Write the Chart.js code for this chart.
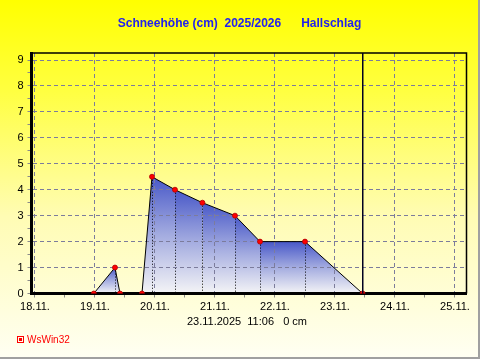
<!DOCTYPE html>
<html>
<head>
<meta charset="utf-8">
<script src="https://cdn.jsdelivr.net/npm/chart.js@4/dist/chart.umd.min.js"></script>
<style>
  html, body { margin: 0; padding: 0; background: #fff; }
  canvas { display: block; }
</style>
</head>
<body>
<canvas id="chart" width="481" height="361"></canvas>
<script>
// --- data (x = days since 18.11.2025 00:00) ---
const dayValues = [0.98, 1.333, 1.417, 1.783, 1.95, 2.333, 2.79, 3.333, 3.75, 4.5, 5.46];
const snowCm    = [0,    1,     0,     0,     4.5,  4,     3.5,  3,     2,    2,   0];
const xTickLabels = ['18.11.', '19.11.', '20.11.', '21.11.', '22.11.', '23.11.', '24.11.', '25.11.'];
const yTickLabels = ['0', '1', '2', '3', '4', '5', '6', '7', '8', '9'];
const titleText = 'Schneehöhe (cm)  2025/2026      Hallschlag';
const stampDay = 5.4625; // 23.11. 11:06
const stampText = '23.11.2025  11:06   0 cm';
const footerText = 'WsWin32';

const FONT = 'Arial, "Liberation Sans", sans-serif';

// background, gradient fill under the curve, dotted drop lines
const paintPlugin = {
    id: 'paint',
    beforeDraw(chart) {
        const { ctx, width, height } = chart;
        ctx.save();
        const bg = ctx.createLinearGradient(0, 0, 0, height);
        bg.addColorStop(0, '#ffff00');
        bg.addColorStop(0.25, '#ffff40');
        bg.addColorStop(0.6, '#fffcb4');
        bg.addColorStop(1, '#fffff4');
        ctx.fillStyle = bg;
        ctx.fillRect(0, 0, width, height);

        const pts = chart.getDatasetMeta(0).data;
        const base = chart.scales.y.getPixelForValue(0);
        for (let i = 0; i < pts.length - 1; i++) {
            const p0 = pts[i], p1 = pts[i + 1];
            const top = Math.min(p0.y, p1.y);
            if (base - top < 1) continue;
            const g = ctx.createLinearGradient(0, top, 0, base);
            g.addColorStop(0, '#4858c8');
            g.addColorStop(0.5, '#a4ace0');
            g.addColorStop(1, '#f4f4f6');
            ctx.fillStyle = g;
            ctx.beginPath();
            ctx.moveTo(p0.x, base);
            ctx.lineTo(p0.x, p0.y);
            ctx.lineTo(p1.x, p1.y);
            ctx.lineTo(p1.x, base);
            ctx.closePath();
            ctx.fill();
        }

        ctx.strokeStyle = '#000';
        ctx.lineWidth = 1;
        ctx.setLineDash([1, 2]);
        pts.forEach(p => {
            if (base - p.y > 2) {
                const x = Math.round(p.x) + 0.5;
                ctx.beginPath();
                ctx.moveTo(x, p.y);
                ctx.lineTo(x, base);
                ctx.stroke();
            }
        });
        ctx.restore();
    },
    afterDraw(chart) {
        const { ctx, chartArea: a, width, height } = chart;
        ctx.save();
        // top + right frame
        ctx.strokeStyle = '#000';
        ctx.lineWidth = 1.5;
        ctx.beginPath();
        ctx.moveTo(a.left, a.top);
        ctx.lineTo(a.right, a.top);
        ctx.lineTo(a.right, a.bottom);
        ctx.stroke();

        // current time marker
        const sx = chart.scales.x.getPixelForValue(stampDay);
        ctx.lineWidth = 1.5;
        ctx.strokeStyle = '#000020';
        ctx.beginPath();
        ctx.moveTo(sx, a.top);
        ctx.lineTo(sx, a.bottom);
        ctx.stroke();

        // texts
        ctx.textBaseline = 'middle';
        ctx.textAlign = 'center';
        ctx.fillStyle = '#2222ee';
        ctx.font = 'bold 12px ' + FONT;
        ctx.fillText(titleText, 239.5, 24);

        ctx.fillStyle = '#000';
        ctx.font = '11px ' + FONT;
        ctx.fillText(stampText, 247, 322);

        ctx.fillStyle = '#ff0000';
        ctx.strokeStyle = '#ff0000';
        ctx.lineWidth = 1;
        ctx.strokeRect(17.5, 336.5, 6, 6);
        ctx.fillRect(19, 338, 3, 3);
        ctx.textAlign = 'left';
        ctx.font = '10px ' + FONT;
        ctx.fillText(footerText, 27, 340);

        // window frame
        ctx.fillStyle = '#a0a0a0';
        ctx.fillRect(478, 0, 2, 359);
        ctx.fillRect(0, 357, 480, 2);
        ctx.fillStyle = '#ffffff';
        ctx.fillRect(480, 0, 1, height);
        ctx.fillRect(0, 359, width, 2);
        ctx.restore();
    }
};

const gridColor = c => (c.tick && Number.isInteger(c.tick.value)) ? '#7c7c9c' : 'rgba(0,0,0,0)';

new Chart(document.getElementById('chart'), {
    type: 'line',
    data: {
        datasets: [{
            data: dayValues.map((d, i) => ({ x: d, y: snowCm[i] })),
            borderColor: '#000',
            borderWidth: 1,
            fill: false,
            tension: 0,
            pointRadius: 2.5,
            pointBackgroundColor: '#ff0000',
            pointBorderColor: '#b00000',
            pointBorderWidth: 0.8
        }]
    },
    options: {
        responsive: false,
        animation: false,
        events: [],
        layout: { padding: { top: 53, right: 14.5, left: 0, bottom: 0 } },
        plugins: { legend: { display: false }, tooltip: { enabled: false } },
        scales: {
            x: {
                type: 'linear',
                min: -0.0583,
                max: 7.1917,
                afterFit(s) { s.height = 67.5; },
                afterBuildTicks(s) {
                    s.ticks = [];
                    for (let i = 0; i < xTickLabels.length; i++) {
                        s.ticks.push({ value: i });
                        if (i < xTickLabels.length - 1) s.ticks.push({ value: i + 0.5 });
                    }
                },
                ticks: {
                    autoSkip: false, maxRotation: 0, padding: 3, color: '#000',
                    font: { family: FONT, size: 11 },
                    callback: v => Number.isInteger(v) ? xTickLabels[v] : ''
                },
                grid: { color: gridColor, lineWidth: 1, tickLength: 4, tickColor: '#8a8a8a' },
                border: { color: '#000', width: 3, dash: [4, 3] }
            },
            y: {
                min: 0,
                max: 9.27,
                afterFit(s) { s.width = 31.5; },
                afterBuildTicks(s) {
                    s.ticks = [];
                    for (let i = 0; i < yTickLabels.length; i++) {
                        s.ticks.push({ value: i });
                        if (i < yTickLabels.length - 1) s.ticks.push({ value: i + 0.5 });
                    }
                },
                ticks: {
                    autoSkip: false, padding: 4, color: '#000',
                    font: { family: FONT, size: 11 },
                    callback: v => Number.isInteger(v) ? yTickLabels[v] : ''
                },
                grid: { color: gridColor, lineWidth: 1, tickLength: 4, tickColor: '#8a8a8a' },
                border: { color: '#000', width: 3, dash: [4, 3] }
            }
        }
    },
    plugins: [paintPlugin]
});
</script>
</body>
</html>
